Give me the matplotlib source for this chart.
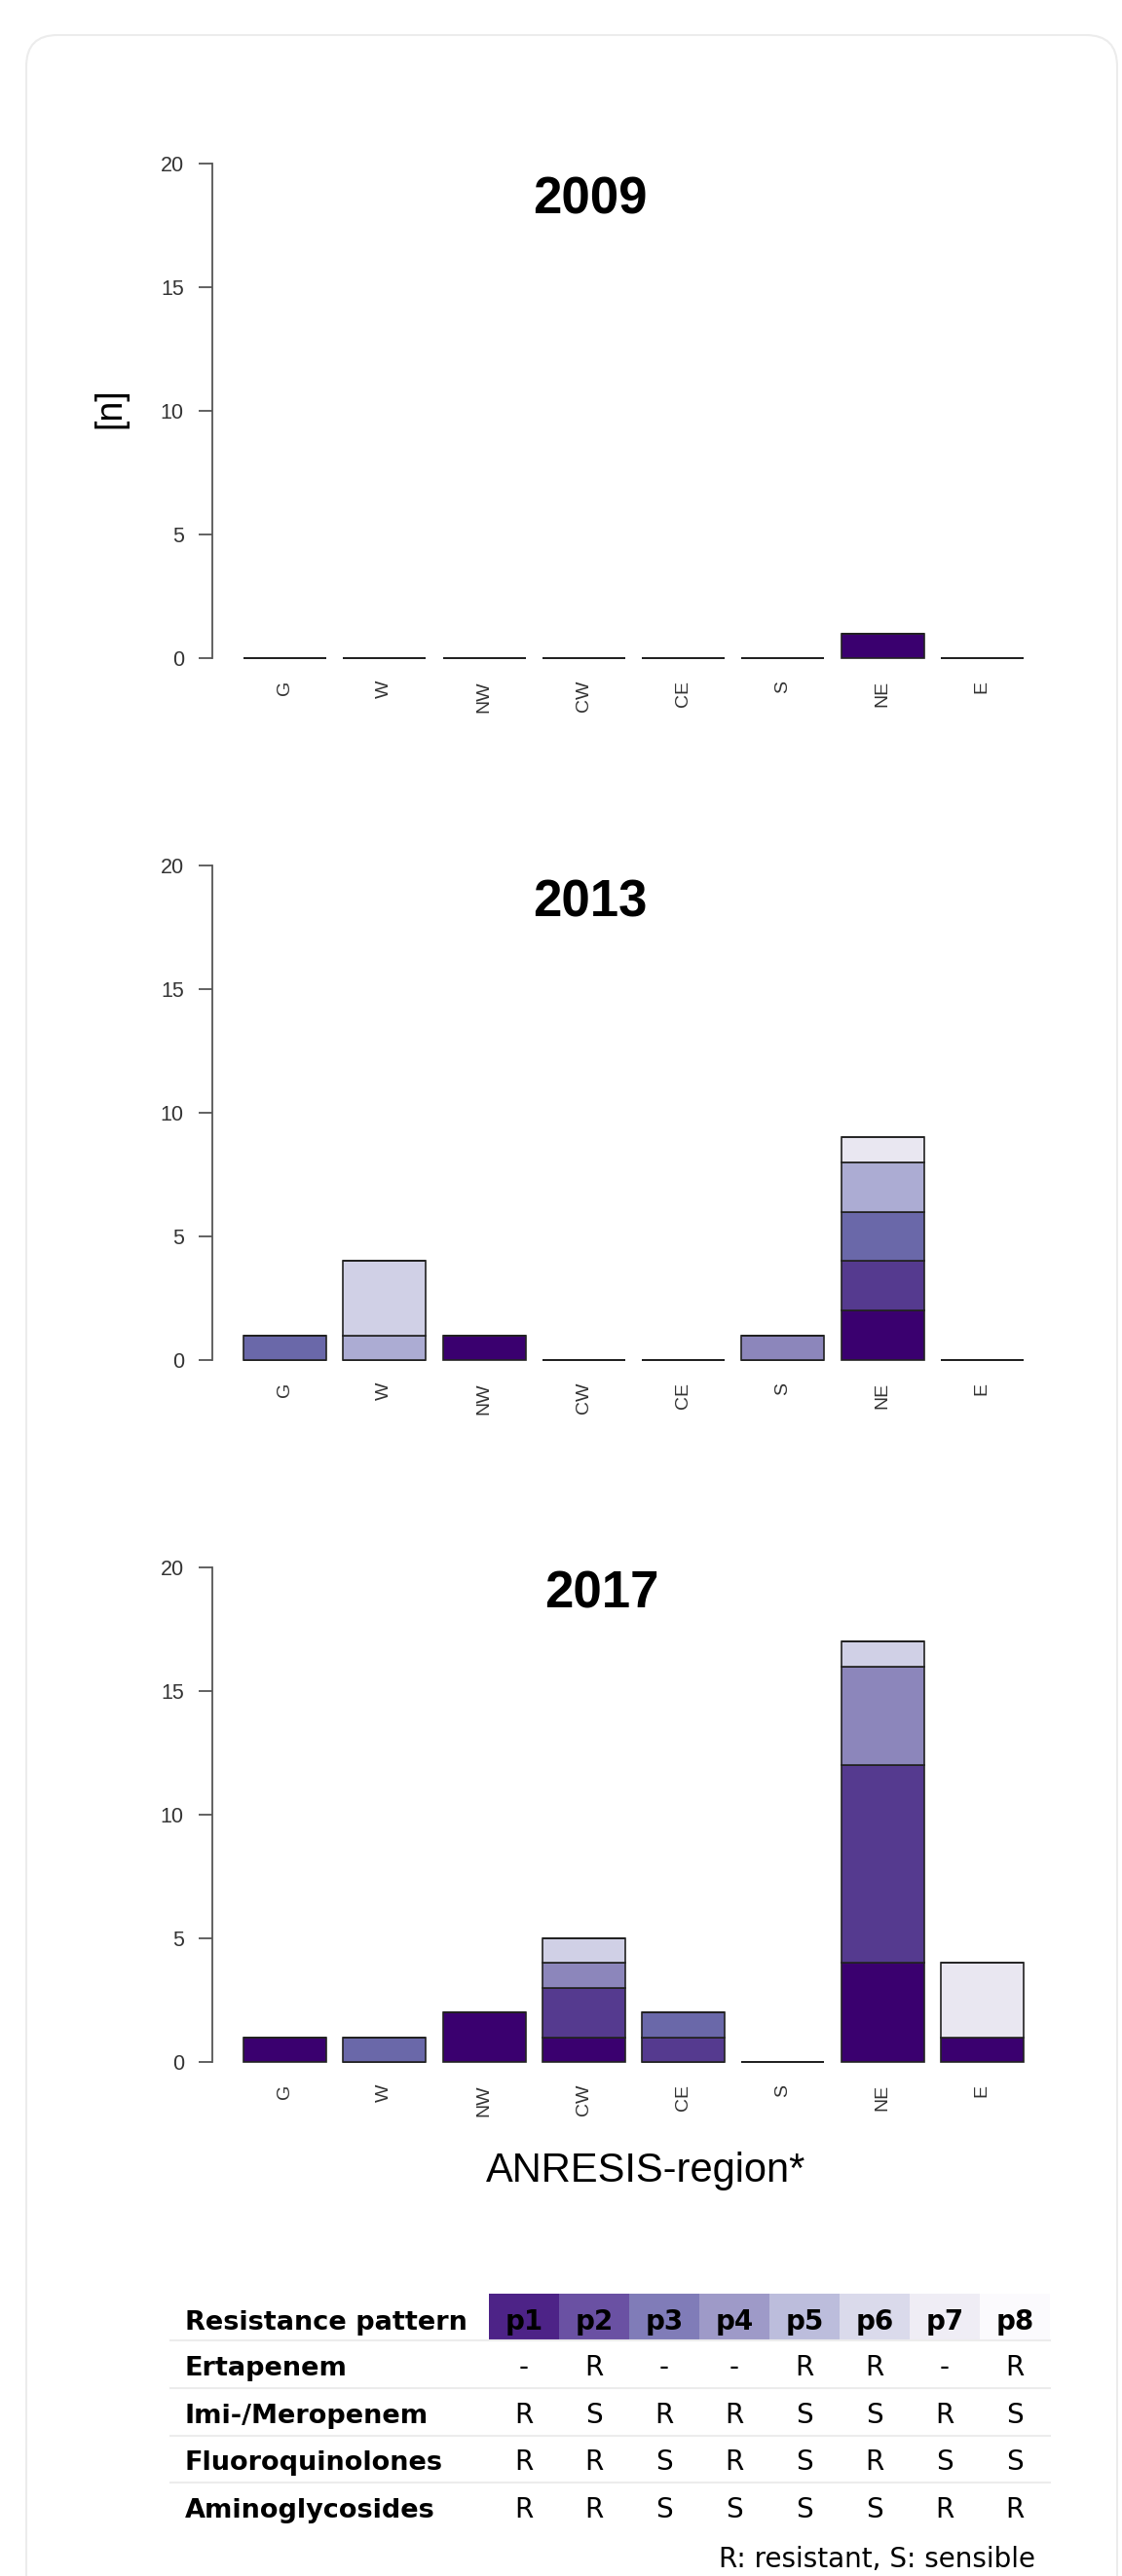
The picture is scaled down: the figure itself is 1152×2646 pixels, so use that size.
import matplotlib
matplotlib.use("Agg")
import matplotlib.pyplot as plt
from matplotlib.patches import FancyBboxPatch, Rectangle
import numpy as np

plt.rcParams['font.family'] = ['Liberation Sans', 'DejaVu Sans']

# ---- data ----
regions = ['G', 'W', 'NW', 'CW', 'CE', 'S', 'NE', 'E']
patterns = ['p1', 'p2', 'p3', 'p4', 'p5', 'p6', 'p7', 'p8']
years = ['2009', '2013', '2017']

# rows = patterns p1..p8, columns = regions
counts_2009 = [
    [0, 0, 0, 0, 0, 0, 1, 0],
    [0, 0, 0, 0, 0, 0, 0, 0],
    [0, 0, 0, 0, 0, 0, 0, 0],
    [0, 0, 0, 0, 0, 0, 0, 0],
    [0, 0, 0, 0, 0, 0, 0, 0],
    [0, 0, 0, 0, 0, 0, 0, 0],
    [0, 0, 0, 0, 0, 0, 0, 0],
    [0, 0, 0, 0, 0, 0, 0, 0],
]
counts_2013 = [
    [0, 0, 1, 0, 0, 0, 2, 0],
    [0, 0, 0, 0, 0, 0, 2, 0],
    [1, 0, 0, 0, 0, 0, 2, 0],
    [0, 0, 0, 0, 0, 1, 0, 0],
    [0, 1, 0, 0, 0, 0, 2, 0],
    [0, 3, 0, 0, 0, 0, 0, 0],
    [0, 0, 0, 0, 0, 0, 1, 0],
    [0, 0, 0, 0, 0, 0, 0, 0],
]
counts_2017 = [
    [1, 0, 2, 1, 0, 0, 4, 1],
    [0, 0, 0, 2, 1, 0, 8, 0],
    [0, 1, 0, 0, 1, 0, 0, 0],
    [0, 0, 0, 1, 0, 0, 4, 0],
    [0, 0, 0, 0, 0, 0, 0, 0],
    [0, 0, 0, 1, 0, 0, 1, 0],
    [0, 0, 0, 0, 0, 0, 0, 3],
    [0, 0, 0, 0, 0, 0, 0, 0],
]
all_counts = [counts_2009, counts_2013, counts_2017]

bar_colors = ['#3a006f', '#553a8f', '#6a68a9', '#8c86bb',
              '#acacd3', '#d0d0e6', '#e9e7f1', '#f7f6fa']
header_colors = ['#4d2387', '#6a51a3', '#807cb8', '#9e9ac8',
                 '#bcbddc', '#dadaeb', '#efedf5', '#fbfafd']

drug_names = ['Ertapenem', 'Imi-/Meropenem', 'Fluoroquinolones', 'Aminoglycosides']
ertapenem = ['-', 'R', '-', '-', 'R', 'R', '-', 'R']
imi_meropenem = ['R', 'S', 'R', 'R', 'S', 'S', 'R', 'S']
fluoroquinolones = ['R', 'R', 'S', 'R', 'S', 'R', 'S', 'S']
aminoglycosides = ['R', 'R', 'S', 'S', 'S', 'S', 'R', 'R']
table_rows = [ertapenem, imi_meropenem, fluoroquinolones, aminoglycosides]

# ---- figure ----
W, H = 1152, 2646
fig = plt.figure(figsize=(W / 100, H / 100), dpi=100)

bg = fig.add_axes([0, 0, 1, 1])
bg.set_xlim(0, W)
bg.set_ylim(H, 0)
bg.axis('off')
bg.add_patch(FancyBboxPatch((27, 36), 1120, 2700,
                            boxstyle="round,pad=0,rounding_size=32",
                            facecolor='white', edgecolor='#ececec', lw=1.5))

zeros_px = [676, 1397, 2118]
ppu = 25.4
title_pos = [(606, 219), (606, 942), (618, 1651)]
x_pos = 0.7 + 1.2 * np.arange(len(regions))

for k, counts in enumerate(all_counts):
    z = zeros_px[k]
    top = z - 20.8 * ppu
    bot = z + 0.8 * ppu
    ax = fig.add_axes([218 / W, 1 - bot / H, 865 / W, (bot - top) / H])
    ax.patch.set_alpha(0)
    bottom = np.zeros(len(regions))
    for j in range(len(patterns)):
        vals = np.array(counts[j], dtype=float)
        ax.bar(x_pos, vals, width=1, bottom=bottom, color=bar_colors[j],
               edgecolor='#222222', linewidth=1.2)
        bottom += vals
    ax.set_xlim(-0.176, 9.976)
    ax.set_ylim(-0.8, 20.8)
    for s in ['top', 'right', 'bottom']:
        ax.spines[s].set_visible(False)
    ax.spines['left'].set_bounds(0, 20)
    ax.spines['left'].set_color('#555555')
    ax.spines['left'].set_linewidth(1.3)
    ax.set_yticks([0, 5, 10, 15, 20])
    ax.tick_params(axis='y', length=10, width=1.3, color='#555555',
                   labelsize=15.5, labelcolor='#333333', pad=11)
    ax.set_xticks(x_pos)
    ax.set_xticklabels(regions, rotation=90, fontsize=14, color='#333333')
    ax.tick_params(axis='x', length=0, pad=2)
    bg.text(title_pos[k][0], title_pos[k][1], years[k], ha='center',
            va='baseline', fontsize=38, fontweight='bold', color='black')

bg.text(113, 419, '[n]', rotation=90, ha='center', va='center', fontsize=27)
bg.text(663, 2241, 'ANRESIS-region*', ha='center', va='baseline', fontsize=30)

# ---- table ----
tfont = 'DejaVu Sans'
cell_x0 = 502
cell_w = 72
baselines = [2393, 2440, 2489, 2537, 2586]
for j, p in enumerate(patterns):
    bg.add_patch(Rectangle((cell_x0 + j * cell_w, 2356), cell_w, 48,
                           facecolor=header_colors[j], edgecolor='none'))
    bg.text(cell_x0 + (j + 0.5) * cell_w, baselines[0], p, ha='center',
            va='baseline', fontsize=20, fontweight='bold', family=tfont)
bg.text(190, baselines[0], 'Resistance pattern', ha='left', va='baseline',
        fontsize=19.5, fontweight='bold', family=tfont)
for sep in [2404, 2453, 2502, 2550]:
    bg.plot([175, 1078], [sep, sep], color='#ececec', lw=1.5)
for r, name in enumerate(drug_names):
    bg.text(190, baselines[r + 1], name, ha='left', va='baseline',
            fontsize=19.5, fontweight='bold', family=tfont)
    for j, v in enumerate(table_rows[r]):
        bg.text(cell_x0 + (j + 0.5) * cell_w, baselines[r + 1], v,
                ha='center', va='baseline', fontsize=20, family=tfont)
bg.text(1063, 2637, 'R: resistant, S: sensible', ha='right', va='baseline',
        fontsize=20, family=tfont)

fig.savefig('out.png', dpi=100, facecolor='white')
